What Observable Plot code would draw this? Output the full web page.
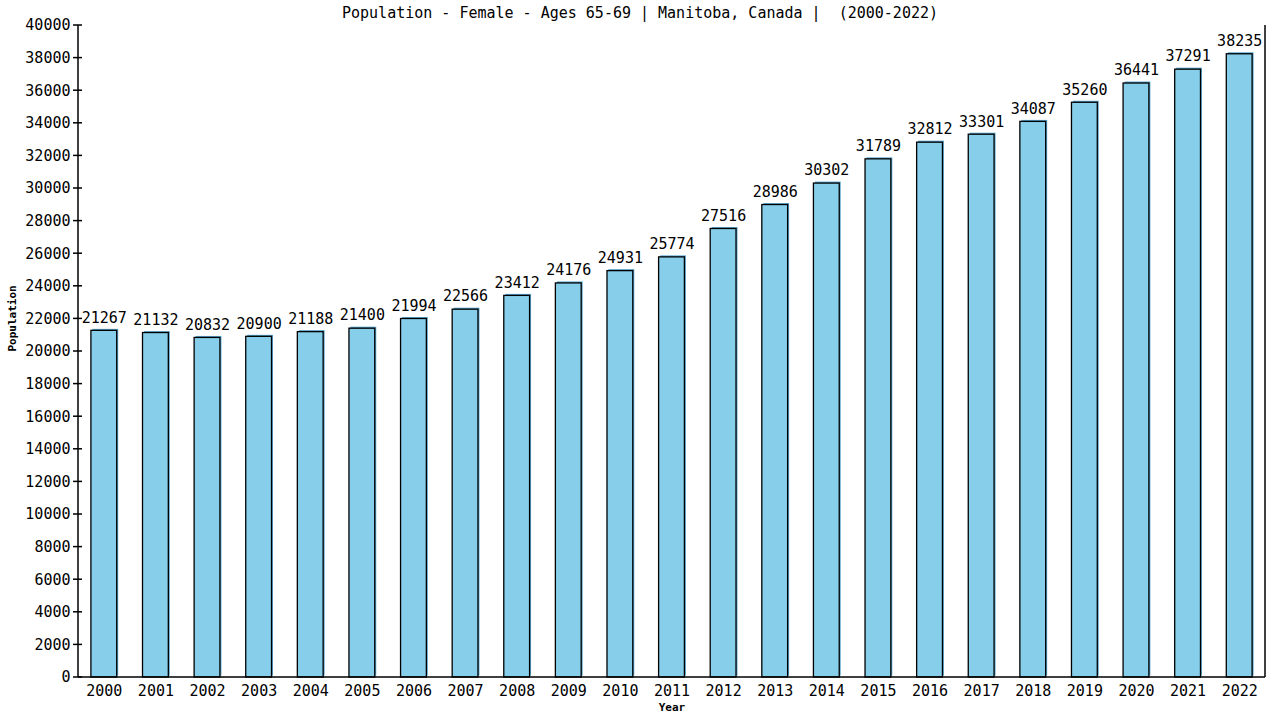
<!DOCTYPE html>
<html>
<head>
<meta charset="utf-8">
<script src="https://cdn.jsdelivr.net/npm/d3@7"></script>
<script src="https://cdn.jsdelivr.net/npm/@observablehq/plot@0.6"></script>
<style>
  html, body { margin: 0; padding: 0; background: #fff; }
  #chart { position: relative; width: 1280px; height: 720px; }
  #title { position: absolute; top: 4px; left: 0; width: 1280px; text-align: center;
    font-family: "DejaVu Sans Mono", monospace; font-size: 15px; color: #000; white-space: pre; }
  svg { position: absolute; top: 0; left: 0; }
</style>
</head>
<body>
<div id="chart"><div id="title">Population - Female - Ages 65-69 | Manitoba, Canada |  (2000-2022)</div></div>
<script>
const years = ["2000","2001","2002","2003","2004","2005","2006","2007","2008","2009","2010","2011","2012","2013","2014","2015","2016","2017","2018","2019","2020","2021","2022"];
const population = [21267,21132,20832,20900,21188,21400,21994,22566,23412,24176,24931,25774,27516,28986,30302,31789,32812,33301,34087,35260,36441,37291,38235];
const yTicks = d3.range(0, 40001, 2000);

const data = years.map((y, i) => ({year: y, value: population[i]}));

const frameLines = (index, scales, values, dims) => {
  const ns = "http://www.w3.org/2000/svg";
  const g = document.createElementNS(ns, "g");
  const L = dims.marginLeft, R = dims.width - dims.marginRight;
  const T = dims.marginTop, B = dims.height - dims.marginBottom;
  const add = (x1, y1, x2, y2) => {
    const l = document.createElementNS(ns, "line");
    l.setAttribute("x1", x1); l.setAttribute("y1", y1);
    l.setAttribute("x2", x2); l.setAttribute("y2", y2);
    l.setAttribute("stroke", "#000"); l.setAttribute("stroke-width", 1.5);
    g.appendChild(l);
  };
  add(L, T, L, B);
  add(R, T, R, B);
  add(L, B, R, B);
  for (const t of yTicks) {
    const y = scales.y(t);
    add(L - 5, y, L + 4, y);
  }
  return g;
};

const chart = Plot.plot({
  width: 1280,
  height: 720,
  marginLeft: 78,
  marginRight: 15,
  marginTop: 25,
  marginBottom: 43,
  style: {fontFamily: "DejaVu Sans Mono, monospace", fontSize: "14px", color: "#000", background: "transparent"},
  x: {domain: years, paddingInner: 0.5, paddingOuter: 0.25, round: false, label: null},
  y: {domain: [0, 40000], label: null},
  marks: [
    Plot.axisY({ticks: yTicks, tickSize: 0, tickPadding: 8, tickFormat: d => String(d), fontSize: 15, label: null}),
    Plot.axisX({tickSize: 0, tickPadding: 8, fontSize: 15, label: null}),
    Plot.barY(data, {x: "year", y: "value", fill: "#5aa6cf", dx: 1.5, dy: -1.5}),
    Plot.barY(data, {x: "year", y: "value", fill: "#87ceeb", stroke: "#000", strokeWidth: 1.3}),
    Plot.text(data, {x: "year", y: "value", text: d => String(d.value), dy: -13, fontSize: 15, fill: "#000"}),
    Plot.text(["Population"], {frameAnchor: "left", dx: -66, rotate: -90, text: d => d, fontSize: 11, fontWeight: "bold", fill: "#000"}),
    Plot.text(["Year"], {frameAnchor: "bottom", dy: 33, text: d => d, fontSize: 11, fontWeight: "bold", fill: "#000"}),
    frameLines
  ]
});
document.getElementById("chart").appendChild(chart);
</script>
</body>
</html>
